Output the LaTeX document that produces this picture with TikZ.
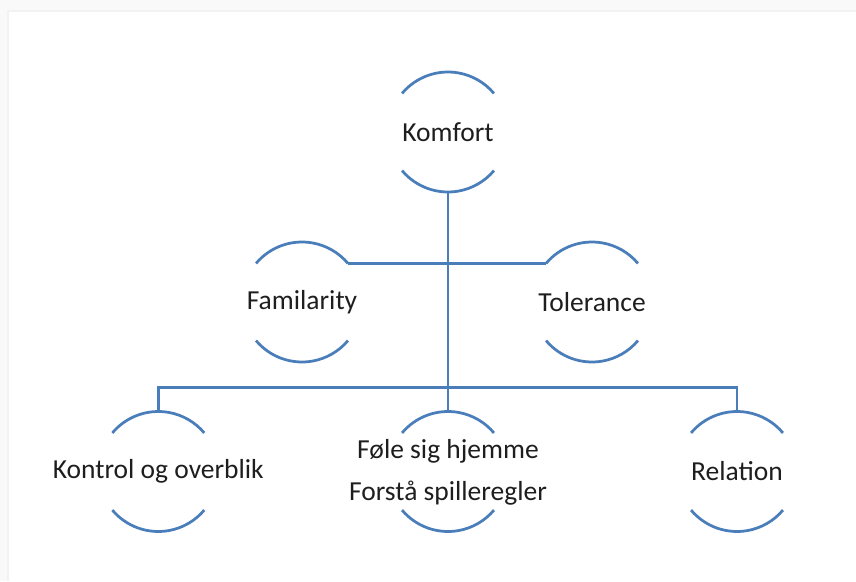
\documentclass[tikz,border=0pt]{standalone}
\usepackage{fontspec}
\setmainfont{Carlito}
\definecolor{linkblue}{RGB}{74,126,187}
\definecolor{inktext}{RGB}{30,30,30}
\begin{document}
\begin{tikzpicture}[x=1pt,y=-1pt,
  topic/.style={circle, minimum size=120pt, inner sep=0pt, outer sep=0pt,
    font=\fontsize{27.5}{41.7}\selectfont, text=inktext},
  rim/.style={draw=linkblue, line width=2.75pt},
  link/.style={draw=linkblue, line width=2.75pt}]
\useasboundingbox (0,0) rectangle (856,581);
\fill[white] (0,0) rectangle (856,581);
% soft frame along the top and left edges
\fill[gray!5] (0,0) rectangle (856,11.5);
\fill[gray!10] (6,9.5) rectangle (856,11.5);
\fill[gray!5] (0,0) rectangle (8.5,581);
\fill[gray!10] (6.5,9.5) rectangle (8.5,581);

% topics
\node[topic] (komfort)  at (448,132)   {\makebox[0pt]{Komfort}};
\node[topic] (famil)    at (302,302)   {\makebox[0pt]{Familarity}};
\node[topic] (toler)    at (592,302)   {\makebox[0pt]{Tolerance}};
\node[topic] (kontrol)  at (158.3,471.5) {\makebox[0pt]{Kontrol og overblik}};
\node[topic] (fole)     at (448,471.5) {\makebox[0pt]{\begin{tabular}{@{}c@{}}Føle sig hjemme\\Forstå spilleregler\end{tabular}}};
\node[topic] (relation) at (737,471.5) {\makebox[0pt]{Relation}};

% upper and lower rims of every topic circle
\foreach \n in {komfort,famil,toler,kontrol,fole,relation}{
  \draw[rim] (\n.center) ++(140:60pt) arc[start angle=140, end angle=40, radius=60pt];
  \draw[rim] (\n.center) ++(220:60pt) arc[start angle=220, end angle=320, radius=60pt];
}

% connectors
\draw[link] (komfort.south) -- (fole.north);
\draw[link] (famil.40) -- (toler.140);
\draw[link] (kontrol.north) -- ++(0,-24) -| (relation.north);
\end{tikzpicture}
\end{document}
